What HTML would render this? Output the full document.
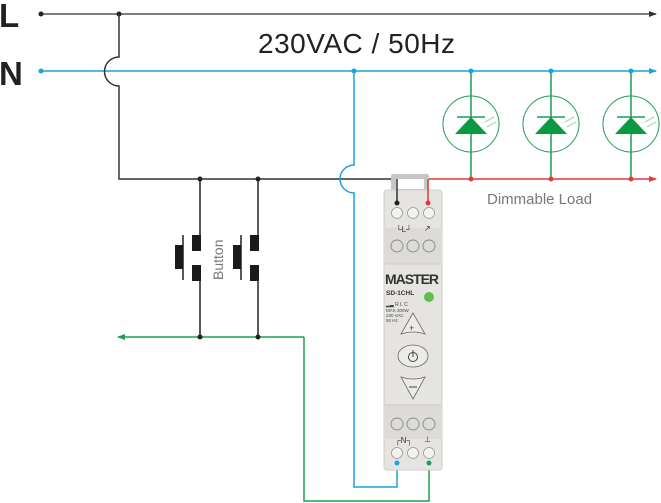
<!DOCTYPE html>
<html><head><style>
html,body{margin:0;padding:0;background:#fff;}
svg{display:block;}
text{font-family:"Liberation Sans",sans-serif;}
</style></head><body>
<svg width="661" height="503" viewBox="0 0 661 503" xmlns="http://www.w3.org/2000/svg">
<defs>
<marker id="ab" markerWidth="8" markerHeight="6" refX="7" refY="3" orient="auto" markerUnits="userSpaceOnUse"><path d="M0,0 L8,3 L0,6z" fill="#333"/></marker>
<marker id="au" markerWidth="8" markerHeight="6" refX="7" refY="3" orient="auto" markerUnits="userSpaceOnUse"><path d="M0,0 L8,3 L0,6z" fill="#1aa3dc"/></marker>
<marker id="ar" markerWidth="8" markerHeight="6" refX="7" refY="3" orient="auto" markerUnits="userSpaceOnUse"><path d="M0,0 L8,3 L0,6z" fill="#e53935"/></marker>
<marker id="ag" markerWidth="8" markerHeight="6" refX="7" refY="3" orient="auto" markerUnits="userSpaceOnUse"><path d="M0,0 L8,3 L0,6z" fill="#1f9d55"/></marker>
</defs>
<text x="-1" y="27" font-size="33" font-weight="bold" fill="#222">L</text>
<text x="-1" y="85" font-size="33" font-weight="bold" fill="#222">N</text>
<text x="258" y="53" font-size="28" fill="#222" textLength="197">230VAC / 50Hz</text>
<text x="487" y="204" font-size="15" fill="#777">Dimmable Load</text>

<line x1="41" y1="14" x2="656" y2="14" stroke="#555" stroke-width="1.5" marker-end="url(#ab)"/>
<circle cx="41" cy="14" r="2.5" fill="#222"/><circle cx="119" cy="14" r="2.5" fill="#222"/>
<line x1="41" y1="71" x2="656" y2="71" stroke="#1aa3dc" stroke-width="1.5" marker-end="url(#au)"/>
<circle cx="41" cy="71" r="2.5" fill="#1aa3dc"/>
<circle cx="354" cy="71" r="2.5" fill="#1aa3dc"/>
<path d="M119,14 V57 A14,14 0 0 0 119,86 V179 H396" fill="none" stroke="#333" stroke-width="1.5"/>
<circle cx="200" cy="179" r="2.5" fill="#222"/><circle cx="258" cy="179" r="2.5" fill="#222"/>
<path d="M354,71 V165 A14,14 0 0 0 354,193 V487 H397 V463" fill="none" stroke="#1aa3dc" stroke-width="1.5"/>
<line x1="428" y1="179" x2="656" y2="179" stroke="#e53935" stroke-width="1.5" marker-end="url(#ar)"/>
<path d="M304,337 V501 H429 V463" fill="none" stroke="#1f9d55" stroke-width="1.5"/>
<line x1="304" y1="337" x2="118" y2="337" stroke="#1f9d55" stroke-width="1.5" marker-end="url(#ag)"/>
<circle cx="200" cy="337" r="2.5" fill="#222"/><circle cx="258" cy="337" r="2.5" fill="#222"/>

<g transform="translate(471,0)">
<line x1="0" y1="71" x2="0" y2="179" stroke="#1f9d55" stroke-width="1.5"/>
<circle cx="0" cy="124" r="28" fill="none" stroke="#1f9d55" stroke-width="1"/>
<line x1="-14" y1="117" x2="14" y2="117" stroke="#1f9d55" stroke-width="1.5"/>
<path d="M0,117 L-16,134 L16,134z" fill="#0a9a40"/>
<path d="M14,122 l9,-5 M16,127 l9,-5" stroke="#8fd0a0" stroke-width="1"/>
<circle cx="0" cy="71" r="2.5" fill="#1aa3dc"/><circle cx="0" cy="179" r="2.5" fill="#e53935"/>
</g>
<g transform="translate(551,0)">
<line x1="0" y1="71" x2="0" y2="179" stroke="#1f9d55" stroke-width="1.5"/>
<circle cx="0" cy="124" r="28" fill="none" stroke="#1f9d55" stroke-width="1"/>
<line x1="-14" y1="117" x2="14" y2="117" stroke="#1f9d55" stroke-width="1.5"/>
<path d="M0,117 L-16,134 L16,134z" fill="#0a9a40"/>
<path d="M14,122 l9,-5 M16,127 l9,-5" stroke="#8fd0a0" stroke-width="1"/>
<circle cx="0" cy="71" r="2.5" fill="#1aa3dc"/><circle cx="0" cy="179" r="2.5" fill="#e53935"/>
</g>
<g transform="translate(631,0)">
<line x1="0" y1="71" x2="0" y2="179" stroke="#1f9d55" stroke-width="1.5"/>
<circle cx="0" cy="124" r="28" fill="none" stroke="#1f9d55" stroke-width="1"/>
<line x1="-14" y1="117" x2="14" y2="117" stroke="#1f9d55" stroke-width="1.5"/>
<path d="M0,117 L-16,134 L16,134z" fill="#0a9a40"/>
<path d="M14,122 l9,-5 M16,127 l9,-5" stroke="#8fd0a0" stroke-width="1"/>
<circle cx="0" cy="71" r="2.5" fill="#1aa3dc"/><circle cx="0" cy="179" r="2.5" fill="#e53935"/>
</g>

<g stroke="#222" stroke-width="1.5">
<line x1="200" y1="179" x2="200" y2="236"/><line x1="200" y1="266" x2="200" y2="337"/>
<line x1="258" y1="179" x2="258" y2="236"/><line x1="258" y1="266" x2="258" y2="337"/>
<line x1="183" y1="235" x2="183" y2="280"/><line x1="241" y1="235" x2="241" y2="280"/>
</g>
<g fill="#1a1a1a">
<rect x="192" y="235" width="9" height="16"/><rect x="192" y="265" width="9" height="16"/>
<rect x="175" y="245" width="8" height="24"/>
<rect x="250" y="235" width="9" height="16"/><rect x="250" y="265" width="9" height="16"/>
<rect x="233" y="245" width="8" height="24"/>
</g>
<text transform="translate(223,280) rotate(-90)" font-size="14" fill="#777">Button</text>

<rect x="391" y="174" width="38" height="18" rx="2" fill="#c8c6c2"/>
<rect x="396" y="179" width="28" height="10" fill="#fff"/>
<rect x="384" y="190" width="58" height="280" rx="3" fill="#e6e4e0" stroke="#d0ceca" stroke-width="1"/>
<rect x="384" y="228" width="58" height="36" fill="#dddbd7"/>
<rect x="384" y="405" width="58" height="34" fill="#dddbd7"/>
<line x1="384" y1="264" x2="442" y2="264" stroke="#cfcdc9"/>
<line x1="384" y1="405" x2="442" y2="405" stroke="#cfcdc9"/>
<g fill="#f2f1ee" stroke="#999" stroke-width="0.8">
<circle cx="397" cy="213" r="5.5"/><circle cx="413" cy="213" r="5.5"/><circle cx="429" cy="213" r="5.5"/>
<circle cx="397" cy="453" r="5.5"/><circle cx="413" cy="453" r="5.5"/><circle cx="429" cy="453" r="5.5"/>
</g>
<g fill="none" stroke="#888" stroke-width="0.9">
<circle cx="397" cy="246" r="6"/><circle cx="413" cy="246" r="6"/><circle cx="429" cy="246" r="6"/>
<circle cx="397" cy="424" r="6"/><circle cx="413" cy="424" r="6"/><circle cx="429" cy="424" r="6"/>
</g>
<text x="396" y="232" font-size="8" fill="#333">└L┘</text>
<text x="424" y="231" font-size="8" fill="#333">↗</text>
<text x="395" y="443" font-size="8" fill="#333">┌N┐</text>
<text x="424" y="442" font-size="8" fill="#333">⊥</text>
<text x="385" y="284" font-size="14" font-weight="bold" fill="#333" textLength="54">MASTER</text>
<text x="386" y="295" font-size="6.5" font-weight="bold" fill="#333">SD-1CHL</text>
<circle cx="429" cy="297" r="5" fill="#5cc04a"/>
<text x="386" y="306" font-size="5" fill="#444">▂▃ R L C</text>
<text x="386" y="312" font-size="4.5" fill="#444">MAX 300W</text>
<text x="386" y="317" font-size="4.5" fill="#444">230 VAC</text>
<text x="386" y="322" font-size="4.5" fill="#444">50 Hz</text>
<path d="M413,313 L401,334 Q413,330 425,334z" fill="#ecebe8" stroke="#666" stroke-width="0.8"/>
<text x="409" y="331" font-size="9" fill="#444">+</text>
<ellipse cx="413" cy="356" rx="15" ry="11" fill="#ecebe8" stroke="#666" stroke-width="0.8"/>
<circle cx="413" cy="357" r="4.5" fill="none" stroke="#444" stroke-width="1"/>
<line x1="413" y1="350" x2="413" y2="357" stroke="#444" stroke-width="1"/>
<path d="M401,377 Q413,381 425,377 L413,399z" fill="#ecebe8" stroke="#666" stroke-width="0.8"/>
<line x1="409" y1="387" x2="417" y2="387" stroke="#444"/>
<line x1="397" y1="179" x2="397" y2="203" stroke="#333" stroke-width="1.5"/>
<line x1="428" y1="179" x2="428" y2="203" stroke="#e53935" stroke-width="1.5"/>
<circle cx="397" cy="203" r="2.5" fill="#222"/><circle cx="428" cy="203" r="2.5" fill="#e53935"/>
<circle cx="397" cy="463" r="2.5" fill="#1aa3dc"/><circle cx="429" cy="463" r="2.5" fill="#1f9d55"/>
</svg>
</body></html>
